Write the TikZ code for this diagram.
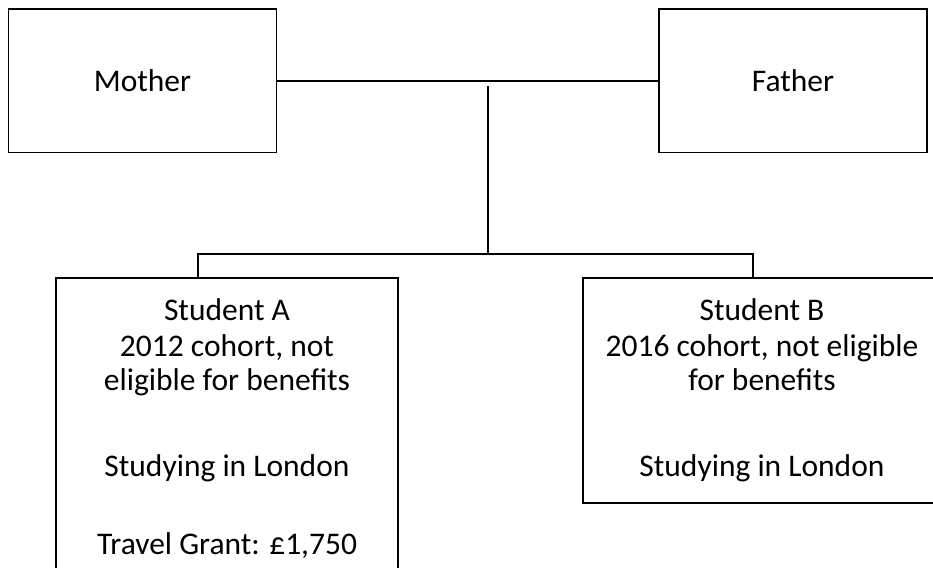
\documentclass[tikz,border=0pt]{standalone}
\usepackage{fontspec}
\setmainfont{Carlito}
\usepackage{tikz}
\usetikzlibrary{calc}
\tikzset{
	famnode/.style = {
		draw=black,
		line width=1.8pt,
		align=center,
		font=\fontsize{31.5}{34}\selectfont
	},
	node_parent/.style = {
		famnode,
		minimum width=268pt,
		minimum height=143.5pt,
		inner sep=0pt
	},
	node_student/.style = {
		famnode,
		anchor=north,
		minimum width=342pt,
		inner xsep=0pt,
		inner ysep=21pt
	},
	link/.style = {
		line width=1.8pt
	}
}

\begin{document}
\begin{tikzpicture}[x=1pt,y=-1pt]
\useasboundingbox (0,0) rectangle (933,567);
\clip (0,0) rectangle (933,567);
% parents
\node [node_parent] (mother) at (142.5,80.75) {Mother};
\node [node_parent] (father) at (793,80.75) {Father};
% children
\node [node_student] (studA) at (227,277) {Student A\\[2pt]2012 cohort, not\\eligible for benefits\\[52pt]Studying in London\\[44pt]Travel Grant: £1,750};
\node [node_student, minimum width=358pt] (studB) at (762,277) {Student B\\[2pt]2016 cohort, not eligible\\for benefits\\[52pt]Studying in London};
\coordinate (stem) at (488,86);
\coordinate (split) at (488,254);
\coordinate (dropA) at (198,254);
\coordinate (dropB) at (753,254);
\draw [link] (mother.east) -- (father.west);
\draw [link] (stem) -- (split);
\draw [link] (studA.north -| dropA) -- (dropA) -- (dropB) -- (studB.north -| dropB);
\end{tikzpicture}
\end{document}
